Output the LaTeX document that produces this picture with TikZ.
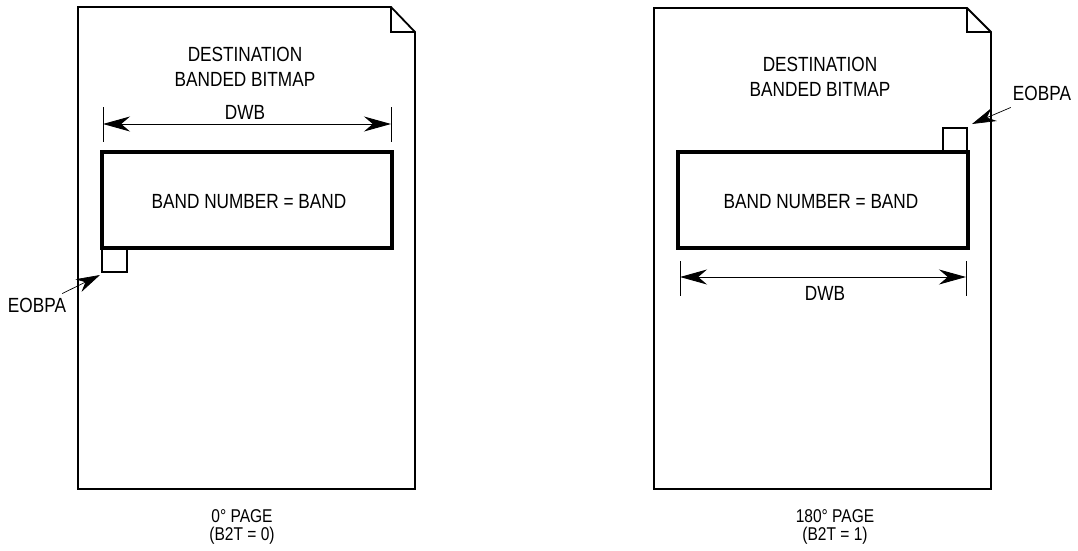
\documentclass[tikz,border=0pt]{standalone}
\usepackage{fontspec}
\setmainfont{Liberation Sans}[FakeStretch=0.84]
\usetikzlibrary{arrows.meta}
\tikzset{
  every picture/.style={line join=miter, >=Stealth},
  page/.style={line width=1.8pt},
  band/.style={line width=3.6pt},
  cell/.style={line width=1.3pt},
  dim/.style={line width=0.9pt, {Stealth[length=27pt,width=15pt]}-{Stealth[length=27pt,width=15pt]}},
  tick/.style={line width=0.6pt},
  lbl/.style={font=\fontsize{20.5}{25}\selectfont, align=center, inner sep=0pt},
  pagecap/.style={font=\fontsize{18.5}{18}\selectfont, align=center, inner sep=0pt},
  ptr/.style={line width=0.7pt, -{Stealth[length=24pt,width=14pt]}},
}

\begin{document}
\begin{tikzpicture}[x=1pt,y=-1pt]
\useasboundingbox (0,0) rectangle (1078,551);

% 0 degree page
\draw[page] (78,7) -- (391,7) -- (415,32) -- (415,489) -- (78,489) -- cycle;
\draw[page] (391,7) -- (391,32) -- (415,32);
\node[lbl] (ttlA) at (245,67) {DESTINATION\\BANDED BITMAP};
\draw[tick] (103,107) -- (103,142);
\draw[tick] (391,107) -- (391,142);
\coordinate (dwbAl) at (103,124);
\coordinate (dwbAr) at (391,124);
\draw[dim] (dwbAl) -- (dwbAr);
\node[lbl] (dwbA) at (245,112) {DWB};
\draw[band] (102,152) rectangle (392,248);
\node[lbl] (bandA) at (249,202) {BAND NUMBER = BAND};
\draw[cell] (102,248) rectangle (127,272);
\coordinate (tipA) at (100,275);
\node[lbl] (eobA) at (37,305) {EOBPA};
\draw[ptr] ([shift={(-4,-4)}]eobA.north east) -- (tipA);
\node[pagecap] (capA) at (242,527) {0° PAGE\\(B2T = 0)};

% 180 degree page
\draw[page] (654,8) -- (967,8) -- (991,32) -- (991,489) -- (654,489) -- cycle;
\draw[page] (967,8) -- (967,32) -- (991,32);
\node[lbl] (ttlB) at (820,77) {DESTINATION\\BANDED BITMAP};
\node[lbl] (eobB) at (1042,93) {EOBPA};
\coordinate (tipB) at (972,124);
\draw[ptr] ([shift={(-2,7)}]eobB.south west) -- (tipB);
\draw[cell] (943,128) rectangle (967,152);
\draw[band] (678,152) rectangle (968,248);
\node[lbl] (bandB) at (821,202) {BAND NUMBER = BAND};
\draw[tick] (680,261) -- (680,296);
\draw[tick] (966,261) -- (966,296);
\coordinate (dwbBl) at (680,277);
\coordinate (dwbBr) at (966,277);
\draw[dim] (dwbBl) -- (dwbBr);
\node[lbl] (dwbB) at (825,293) {DWB};
\node[pagecap] (capB) at (835,527) {180° PAGE\\(B2T = 1)};
\end{tikzpicture}
\end{document}
